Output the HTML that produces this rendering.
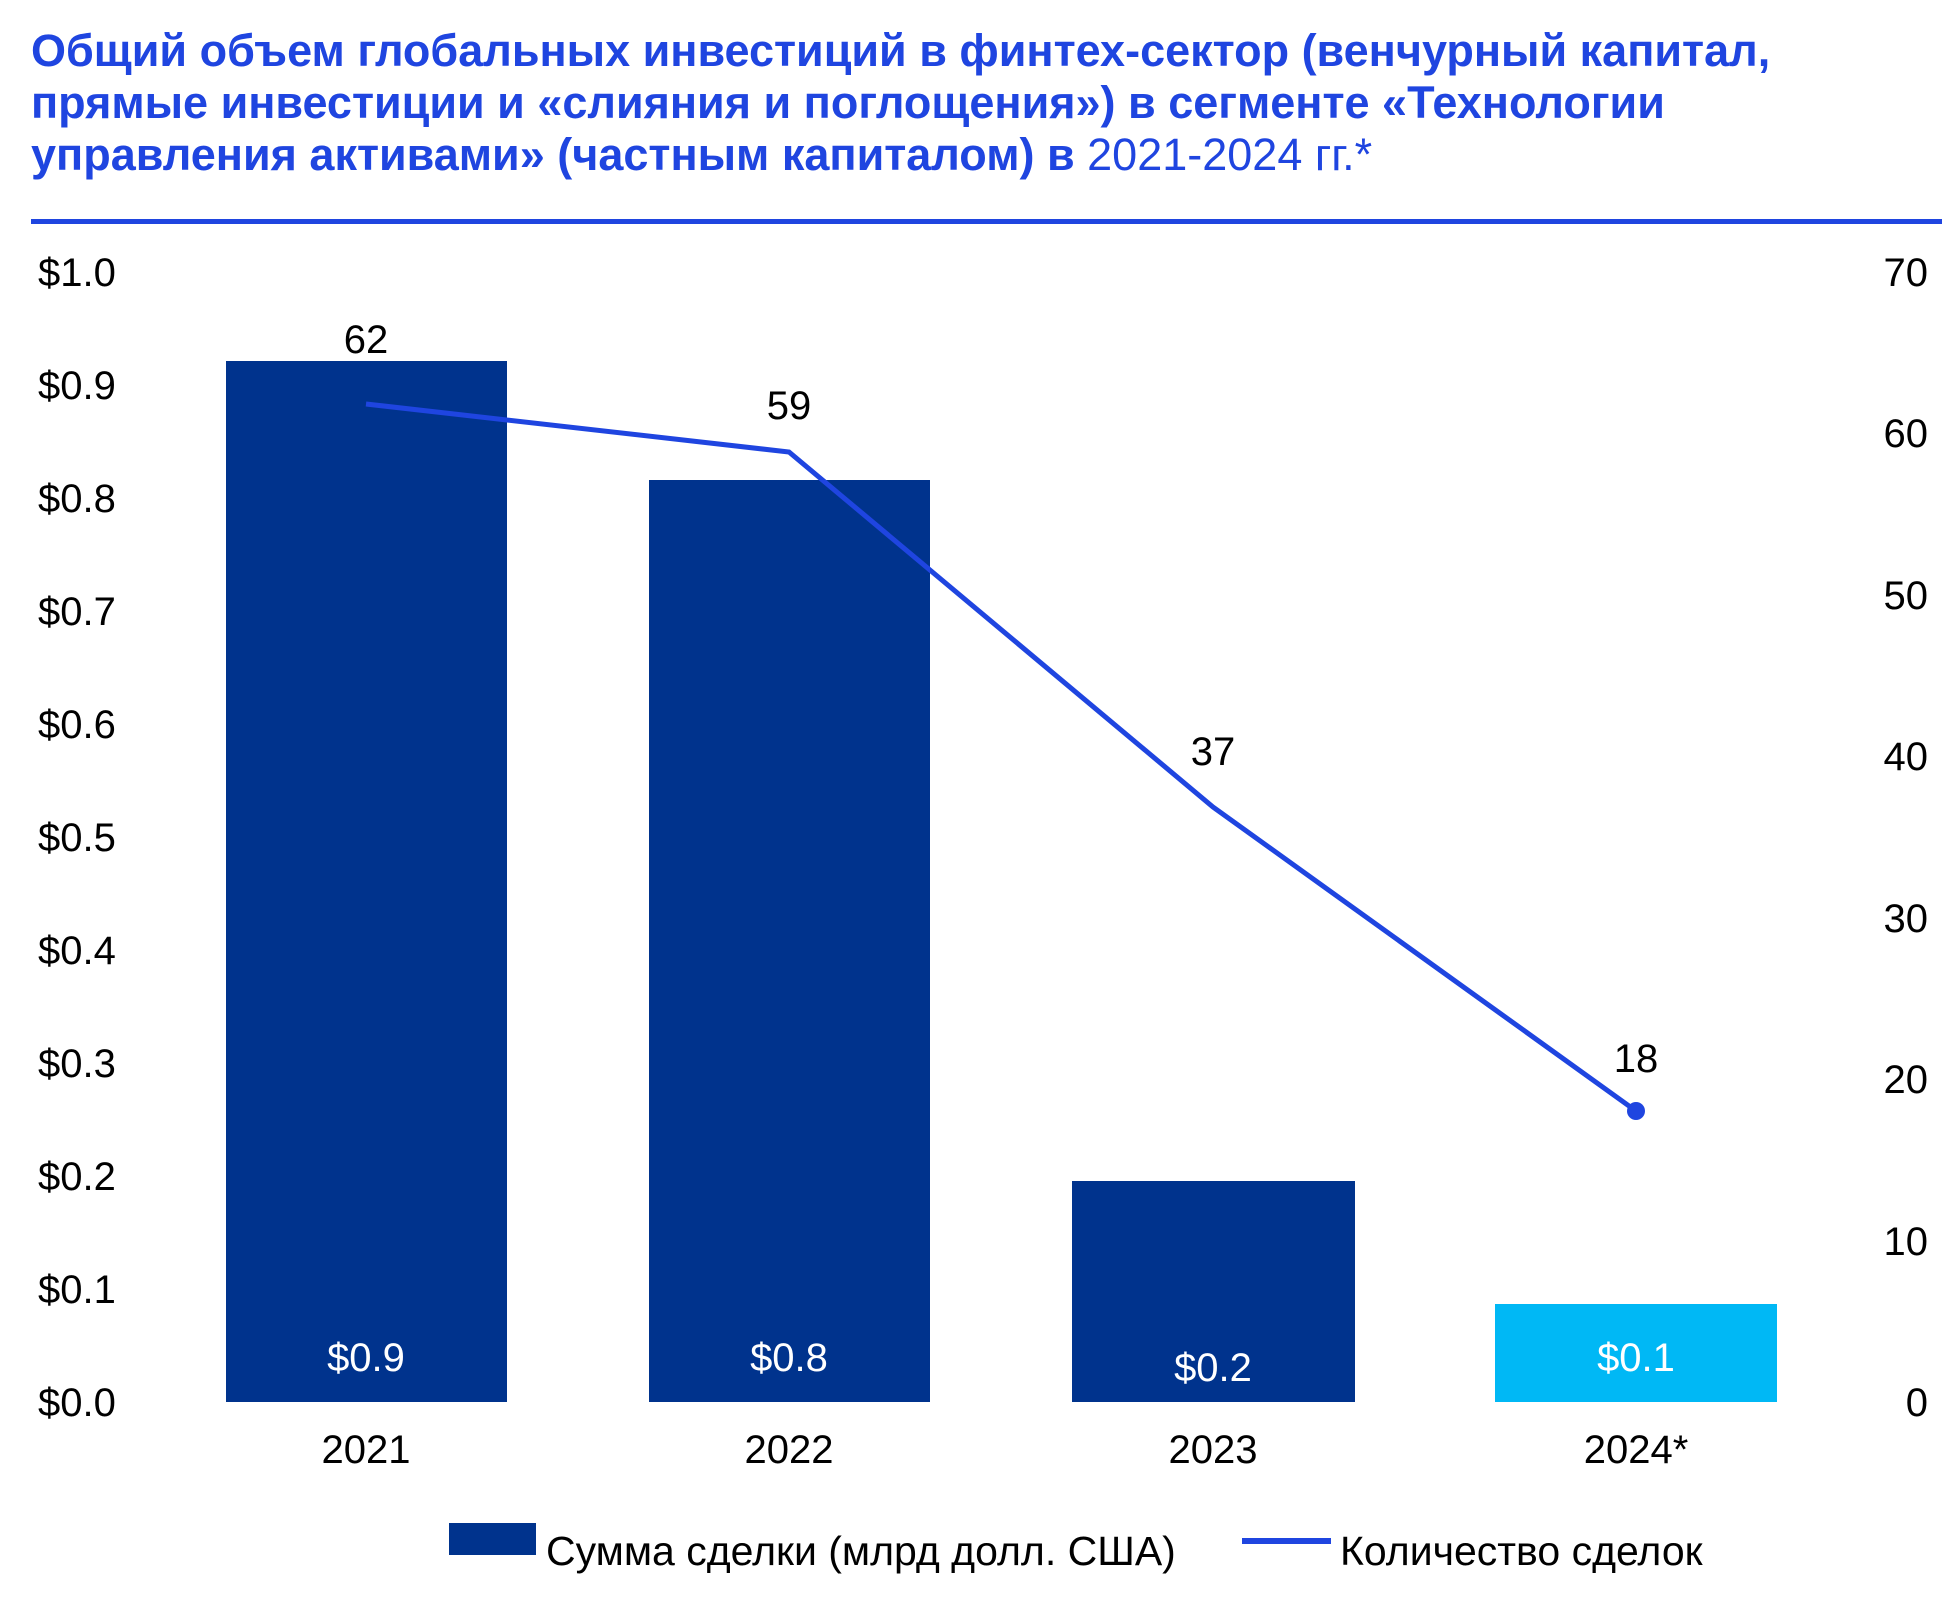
<!DOCTYPE html>
<html><head><meta charset="utf-8"><style>
body{margin:0;background:#fff;}
svg{display:block;}
</style></head><body>
<svg width="1954" height="1600" viewBox="0 0 1954 1600" xmlns="http://www.w3.org/2000/svg" font-family="'Liberation Sans', sans-serif">
<g fill="#1f45e0" font-size="45" font-weight="bold">
<text x="31" y="66">Общий объем глобальных инвестиций в финтех-сектор (венчурный капитал,</text>
<text x="31" y="118">прямые инвестиции и «слияния и поглощения») в сегменте «Технологии</text>
<text x="31" y="170">управления активами» (частным капиталом) в <tspan font-weight="normal">2021-2024 гг.*</tspan></text>
</g>
<rect x="31" y="219" width="1911" height="5" fill="#1f45e0"/>
<g font-size="40" fill="#000">
<text x="38" y="286">$1.0</text><text x="38" y="399">$0.9</text><text x="38" y="512">$0.8</text><text x="38" y="625">$0.7</text><text x="38" y="738">$0.6</text><text x="38" y="851">$0.5</text><text x="38" y="964">$0.4</text><text x="38" y="1077">$0.3</text><text x="38" y="1190">$0.2</text><text x="38" y="1303">$0.1</text><text x="38" y="1416">$0.0</text>
<g text-anchor="end"><text x="1928" y="286">70</text><text x="1928" y="447">60</text><text x="1928" y="609">50</text><text x="1928" y="770">40</text><text x="1928" y="932">30</text><text x="1928" y="1093">20</text><text x="1928" y="1255">10</text><text x="1928" y="1416">0</text></g>
</g>
<rect x="226" y="361" width="281" height="1041" fill="#00338d"/>
<rect x="649" y="480" width="281" height="922" fill="#00338d"/>
<rect x="1072" y="1181" width="283" height="221" fill="#00338d"/>
<rect x="1495" y="1304" width="282" height="98" fill="#00b8f5"/>
<g font-size="40" fill="#fff" text-anchor="middle">
<text x="366" y="1371">$0.9</text><text x="789" y="1371">$0.8</text><text x="1213" y="1381">$0.2</text><text x="1636" y="1371">$0.1</text>
</g>
<polyline points="366,404 789,452 1213,807 1636,1111" fill="none" stroke="#1f45e0" stroke-width="5"/>
<circle cx="1636" cy="1111" r="9" fill="#1f45e0"/>
<g font-size="40" fill="#000" text-anchor="middle">
<text x="366" y="353">62</text><text x="789" y="419">59</text><text x="1213" y="765">37</text><text x="1636" y="1072">18</text>
<text x="366" y="1463">2021</text><text x="789" y="1463">2022</text><text x="1213" y="1463">2023</text><text x="1636" y="1463">2024*</text>
</g>
<rect x="449" y="1523" width="87" height="32" fill="#00338d"/>
<text x="546" y="1565" font-size="41">Сумма сделки (млрд долл. США)</text>
<rect x="1242" y="1538" width="89" height="6" fill="#1f45e0"/>
<text x="1340" y="1565" font-size="41">Количество сделок</text>
</svg>
</body></html>
